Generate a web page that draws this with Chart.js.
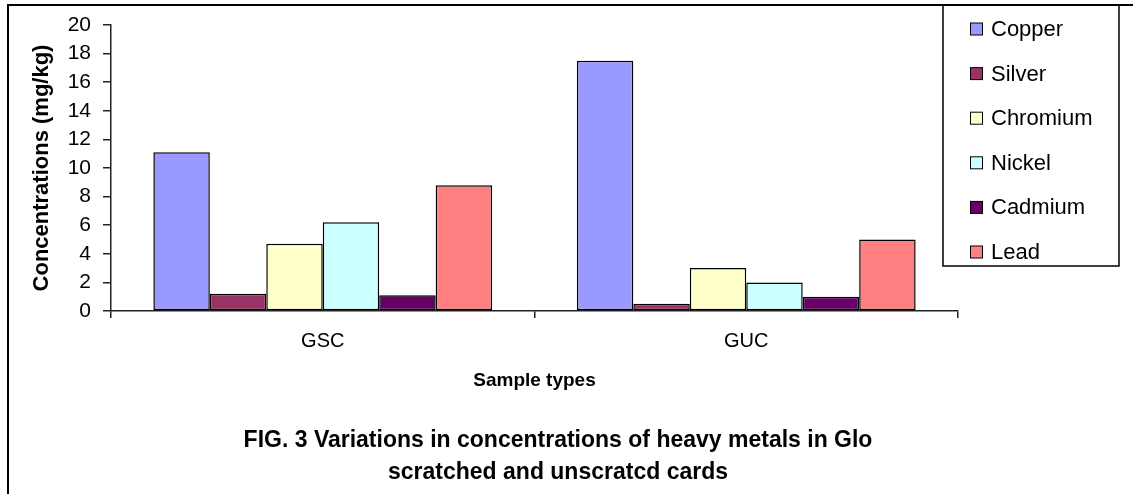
<!DOCTYPE html>
<html>
<head>
<meta charset="utf-8">
<script src="https://cdn.jsdelivr.net/npm/chart.js@4.4.0/dist/chart.umd.min.js"></script>
<style>
    html, body { margin: 0; padding: 0; background: #fff; }
    canvas { display: block; }
</style>
</head>
<body>
<canvas id="chart" width="1133" height="494"></canvas>
<script>
// sample types on the x axis
const categories = ['GSC', 'GUC'];

// heavy metal concentrations (mg/kg)
const copper   = [11.1, 17.5];
const silver   = [1.2, 0.5];
const chromium = [4.7, 3.0];
const nickel   = [6.2, 2.0];
const cadmium  = [1.1, 1.0];
const lead     = [8.8, 5.0];

const metalNames  = ['Copper', 'Silver', 'Chromium', 'Nickel', 'Cadmium', 'Lead'];
const metalValues = [copper, silver, chromium, nickel, cadmium, lead];
const metalColors = ['#9999FF', '#993366', '#FFFFCC', '#CCFFFF', '#660066', '#FF8080'];

const yTicks = [0, 2, 4, 6, 8, 10, 12, 14, 16, 18, 20];

const captionLines = [
    'FIG. 3 Variations in concentrations of heavy metals in Glo',
    'scratched and unscratcd cards'
];

const FONT = "Arial, 'Liberation Sans', sans-serif";

// frame, legend box and caption
const framePlugin = {
    id: 'frame',
    beforeDraw(chart) {
        const ctx = chart.ctx;
        ctx.save();
        ctx.fillStyle = '#fff';
        ctx.fillRect(0, 0, chart.width, chart.height);
        ctx.restore();
    },
    afterDraw(chart) {
        const ctx = chart.ctx;
        ctx.save();

        // outer frame (top and left edges visible)
        ctx.strokeStyle = '#000';
        ctx.lineWidth = 2;
        ctx.beginPath();
        ctx.moveTo(8, chart.height);
        ctx.lineTo(8, 5);
        ctx.lineTo(chart.width, 5);
        ctx.stroke();

        // legend box
        ctx.lineWidth = 1.5;
        ctx.strokeRect(943, 5, 176, 261);

        ctx.font = '22px ' + FONT;
        ctx.textBaseline = 'middle';
        ctx.textAlign = 'left';
        chart.data.datasets.forEach((ds, i) => {
            const y = 29 + i * 44.6;
            ctx.fillStyle = ds.backgroundColor;
            ctx.fillRect(970.5, y - 6, 12, 12);
            ctx.lineWidth = 1;
            ctx.strokeStyle = '#000';
            ctx.strokeRect(970.5, y - 6, 12, 12);
            ctx.fillStyle = '#000';
            ctx.fillText(ds.label, 991, y + 1);
        });

        // caption
        ctx.font = 'bold 23px ' + FONT;
        ctx.textAlign = 'center';
        captionLines.forEach((line, i) => {
            ctx.fillText(line, 558, 441 + i * 32);
        });

        ctx.restore();
    }
};

const ctx = document.getElementById('chart').getContext('2d');

new Chart(ctx, {
    type: 'bar',
    data: {
        labels: categories,
        datasets: metalNames.map((name, i) => ({
            label: name,
            data: metalValues[i],
            backgroundColor: metalColors[i],
            borderColor: '#000',
            borderWidth: 1.5,
            borderSkipped: false
        }))
    },
    options: {
        responsive: false,
        animation: false,
        devicePixelRatio: 1,
        layout: {
            padding: { left: 0, top: 25, right: 175, bottom: 70 }
        },
        datasets: {
            bar: {
                categoryPercentage: 0.8,
                barPercentage: 1.0
            }
        },
        plugins: {
            legend: { display: false },
            tooltip: { enabled: false },
            title: { display: false }
        },
        scales: {
            x: {
                afterFit(scale) { scale.height = 113; },
                grid: {
                    display: true,
                    offset: true,
                    drawOnChartArea: false,
                    drawTicks: true,
                    tickLength: 7,
                    color: '#222',
                    lineWidth: 1.5
                },
                border: { display: true, color: '#222', width: 1.5 },
                ticks: {
                    color: '#000',
                    padding: 11,
                    font: { family: FONT, size: 20 }
                },
                title: {
                    display: true,
                    text: 'Sample types',
                    color: '#000',
                    font: { family: FONT, size: 19, weight: 'bold' },
                    padding: { top: 0, bottom: 32 }
                }
            },
            y: {
                min: 0,
                max: 20,
                afterFit(scale) { scale.width = 111; },
                afterBuildTicks(scale) {
                    scale.ticks = yTicks.map(v => ({ value: v }));
                },
                grid: {
                    display: true,
                    drawOnChartArea: false,
                    drawTicks: true,
                    tickLength: 8,
                    color: '#222',
                    lineWidth: 1.5
                },
                border: { display: true, color: '#222', width: 1.5 },
                ticks: {
                    color: '#000',
                    padding: 12,
                    autoSkip: false,
                    font: { family: FONT, size: 21, lineHeight: 1 }
                },
                title: {
                    display: true,
                    text: 'Concentrations (mg/kg)',
                    color: '#000',
                    font: { family: FONT, size: 22, weight: 'bold' },
                    padding: { top: 29, bottom: 0 }
                }
            }
        }
    },
    plugins: [framePlugin]
});
</script>
</body>
</html>
